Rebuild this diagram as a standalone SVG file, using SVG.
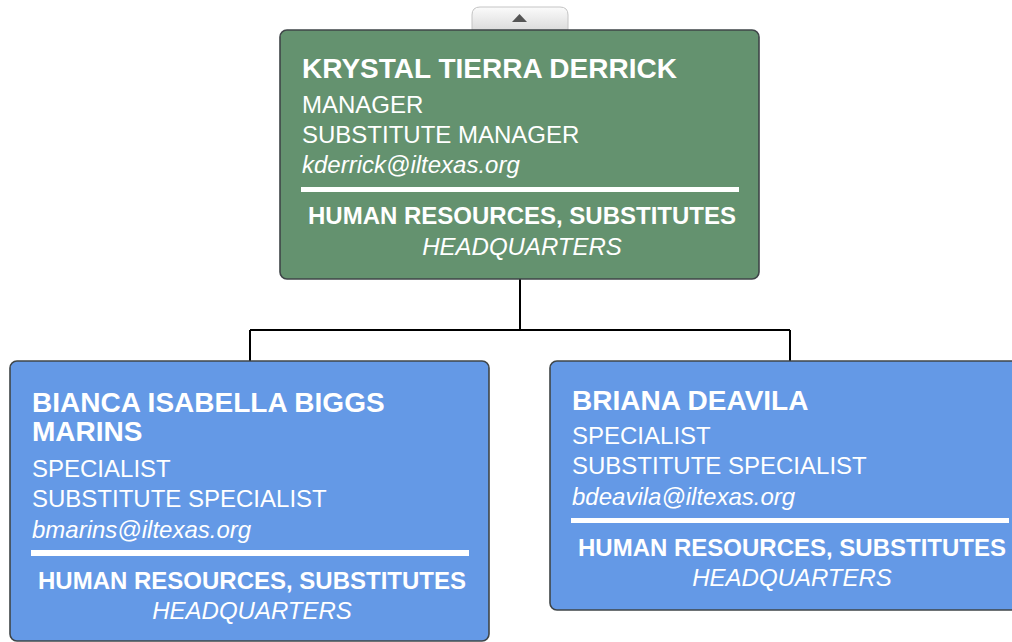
<svg xmlns="http://www.w3.org/2000/svg" width="1012" height="642" viewBox="0 0 1012 642">
<defs>
<linearGradient id="tabg" x1="0" y1="0" x2="0" y2="1">
<stop offset="0" stop-color="#fbfbfb"/>
<stop offset="1" stop-color="#dcdcdc"/>
</linearGradient>
</defs>
<style>
.box{stroke:#3f4548;stroke-width:1.6}
.green{fill:#64926f}
.blue{fill:#6499e6}
text{font-family:"Liberation Sans",Arial,sans-serif;fill:#ffffff}
.nm{font-size:28px;font-weight:bold}
.t{font-size:24px}
.em{font-size:24px;font-style:italic}
.dp{font-size:24px;font-weight:bold;text-anchor:middle}
.hq{font-size:24px;font-style:italic;text-anchor:middle}
.sep{fill:#ffffff}
.conn{stroke:#000;stroke-width:2;fill:none}
</style>
<g id="connectors">
<path class="conn" d="M520 279 V330 M250 330 H790 M250 330 V361 M790 330 V361"/>
</g>
<g id="tab">
<path d="M472 30 V15 Q472 7 480 7 H560 Q568 7 568 15 V30 Z" fill="url(#tabg)" stroke="#c4c4c4" stroke-width="1"/>
<path d="M512 22 L519.5 14 L527 22 Z" fill="#555"/>
</g>
<g id="node-krystal">
<rect class="box green" x="280" y="30" width="479" height="249" rx="7"/>
<text class="nm" x="302" y="78">KRYSTAL TIERRA DERRICK</text>
<text class="t" x="302" y="113">MANAGER</text>
<text class="t" x="302" y="143">SUBSTITUTE MANAGER</text>
<text class="em" x="302" y="173">kderrick@iltexas.org</text>
<rect class="sep" x="301" y="187" width="438" height="5"/>
<text class="dp" x="522" y="224">HUMAN RESOURCES, SUBSTITUTES</text>
<text class="hq" x="522" y="255">HEADQUARTERS</text>
</g>
<g id="node-bianca">
<rect class="box blue" x="10" y="361" width="479" height="280" rx="7"/>
<text class="nm" x="32" y="412">BIANCA ISABELLA BIGGS</text>
<text class="nm" x="32" y="441">MARINS</text>
<text class="t" x="32" y="477">SPECIALIST</text>
<text class="t" x="32" y="507">SUBSTITUTE SPECIALIST</text>
<text class="em" x="32" y="538">bmarins@iltexas.org</text>
<rect class="sep" x="31" y="550" width="438" height="6"/>
<text class="dp" x="252" y="589">HUMAN RESOURCES, SUBSTITUTES</text>
<text class="hq" x="252" y="619">HEADQUARTERS</text>
</g>
<g id="node-briana">
<rect class="box blue" x="550" y="361" width="479" height="249" rx="7"/>
<text class="nm" x="572" y="410">BRIANA DEAVILA</text>
<text class="t" x="572" y="444">SPECIALIST</text>
<text class="t" x="572" y="474">SUBSTITUTE SPECIALIST</text>
<text class="em" x="572" y="505">bdeavila@iltexas.org</text>
<rect class="sep" x="571" y="518" width="438" height="5"/>
<text class="dp" x="792" y="556">HUMAN RESOURCES, SUBSTITUTES</text>
<text class="hq" x="792" y="586">HEADQUARTERS</text>
</g>
</svg>
